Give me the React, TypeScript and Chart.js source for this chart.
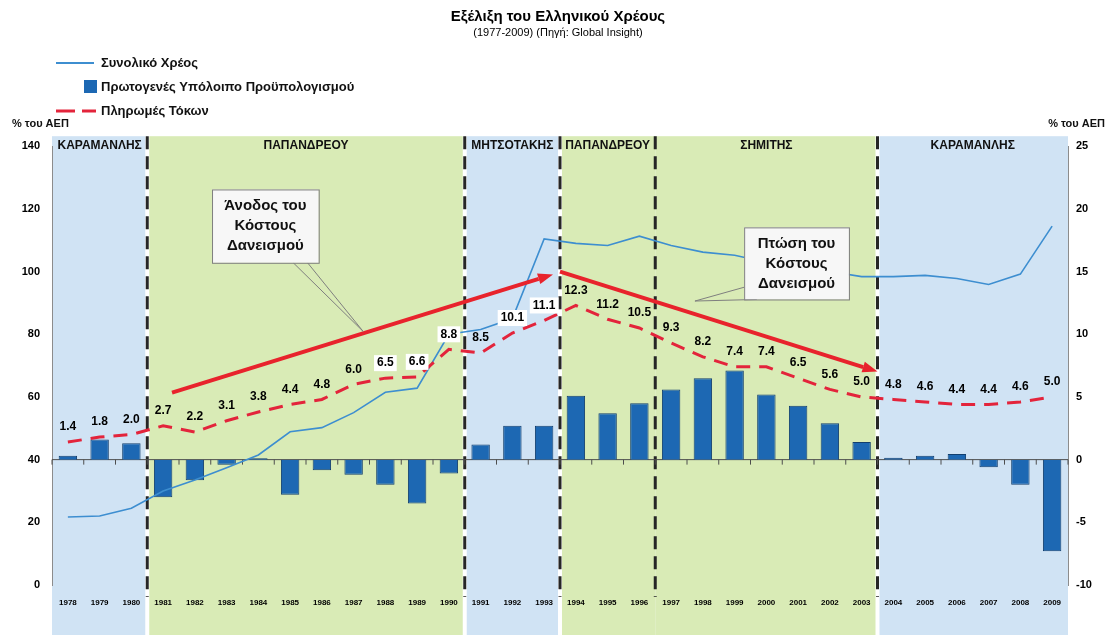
import { useEffect, useRef } from "react";
import { Chart, registerables } from "chart.js";

Chart.register(...registerables);

// ---------- DATA ----------
const years = [
  "1978", "1979", "1980", "1981", "1982", "1983", "1984", "1985", "1986", "1987", "1988",
  "1989", "1990", "1991", "1992", "1993", "1994", "1995", "1996", "1997", "1998", "1999",
  "2000", "2001", "2002", "2003", "2004", "2005", "2006", "2007", "2008", "2009",
];

// Συνολικό Χρέος (% ΑΕΠ, left axis)
const totalDebt = [
  21.7, 22.0, 24.5, 30.0, 33.5, 37.4, 41.5, 48.9, 50.2, 55.0, 61.5,
  62.8, 80.0, 81.5, 85.0, 110.4, 109.0, 108.3, 111.3, 108.3, 106.2, 105.2,
  103.0, 101.5, 100.0, 98.4, 98.4, 98.8, 97.8, 95.9, 99.2, 114.5,
];

// Πρωτογενές Υπόλοιπο Προϋπολογισμού (% ΑΕΠ, right axis)
const primaryBalance = [
  0.3, 1.6, 1.3, -3.0, -1.65, -0.4, 0.1, -2.8, -0.85, -1.2, -2.0,
  -3.5, -1.1, 1.2, 2.7, 2.7, 5.1, 3.7, 4.5, 5.6, 6.5, 7.1,
  5.2, 4.3, 2.9, 1.4, 0.15, 0.3, 0.45, -0.6, -2.0, -7.3,
];

// Πληρωμές Τόκων (% ΑΕΠ, right axis)
const interestPayments = [
  1.4, 1.8, 2.0, 2.7, 2.2, 3.1, 3.8, 4.4, 4.8, 6.0, 6.5,
  6.6, 8.8, 8.5, 10.1, 11.1, 12.3, 11.2, 10.5, 9.3, 8.2, 7.4,
  7.4, 6.5, 5.6, 5.0, 4.8, 4.6, 4.4, 4.4, 4.6, 5.0,
];

const leftTickStep = 20;
const rightTickStep = 5;

// Government periods
const periodNames = ["ΚΑΡΑΜΑΝΛΗΣ", "ΠΑΠΑΝΔΡΕΟΥ", "ΜΗΤΣΟΤΑΚΗΣ", "ΠΑΠΑΝΔΡΕΟΥ", "ΣΗΜΙΤΗΣ", "ΚΑΡΑΜΑΝΛΗΣ"];
const periodFirstYear = ["1978", "1981", "1991", "1994", "1997", "2004"];
const periodLastYear = ["1980", "1990", "1993", "1996", "2003", "2009"];
const periodKind = ["blue", "green", "blue", "green", "green", "blue"];

// interest labels drawn on a white box
const boxedLabelYears = ["1988", "1989", "1990", "1992", "1993"];

// Annotations (x = category index, y = left-axis value)
const riseArrow = [[3.28, 61.4], [15.28, 99.1]];
const fallArrow = [[15.5, 100.0], [25.5, 68.1]];
const riseText = ["Άνοδος του", "Κόστους", "Δανεισμού"];
const fallText = ["Πτώση του", "Κόστους", "Δανεισμού"];
const riseBox = { x: [4.54, 7.9], y: [126.2, 102.8], tail: [[7.1, 102.8], [7.55, 102.8]], tip: [9.3, 80.9] };
const fallBox = { x: [21.3, 24.6], y: [114.1, 91.1], tail: [[21.3, 95.0], [21.7, 91.1]], tip: [19.75, 90.6] };

// ---------- STYLE ----------
const FONT = "'Liberation Sans', Arial, sans-serif";
const BLUE_BAND = "#d0e3f4";
const GREEN_BAND = "#d9ebb6";
const DEBT_COLOR = "#3d8ed0";
const BAR_COLOR = "#1d68b3";
const BAR_BORDER = "#123f6e";
const INT_COLOR = "#e3243b";
const ARROW_COLOR = "#e8232c";

function drawArrow(ctx: CanvasRenderingContext2D, x1: number, y1: number, x2: number, y2: number) {
  const ang = Math.atan2(y2 - y1, x2 - x1);
  const head = 15;
  const hw = 11;
  const bx = x2 - head * Math.cos(ang);
  const by = y2 - head * Math.sin(ang);
  ctx.save();
  ctx.strokeStyle = ARROW_COLOR;
  ctx.lineWidth = 4;
  ctx.lineCap = "butt";
  ctx.beginPath();
  ctx.moveTo(x1, y1);
  ctx.lineTo(bx, by);
  ctx.stroke();
  ctx.fillStyle = ARROW_COLOR;
  ctx.beginPath();
  ctx.moveTo(x2, y2);
  ctx.lineTo(bx + (hw / 2) * Math.sin(ang), by - (hw / 2) * Math.cos(ang));
  ctx.lineTo(bx - (hw / 2) * Math.sin(ang), by + (hw / 2) * Math.cos(ang));
  ctx.closePath();
  ctx.fill();
  ctx.restore();
}

const decorPlugin = {
  id: "decor",
  beforeDraw(chart: any) {
    const { ctx, chartArea, scales } = chart;
    const x = scales.x;
    const half = (x.getPixelForValue(1) - x.getPixelForValue(0)) / 2;
    const bandTop = chartArea.top - 10;
    ctx.save();
    for (let i = 0; i < periodNames.length; i++) {
      const i0 = years.indexOf(periodFirstYear[i]);
      const i1 = years.indexOf(periodLastYear[i]);
      let l = x.getPixelForValue(i0) - half;
      let r = x.getPixelForValue(i1) + half;
      if (i > 0 && periodKind[i - 1] !== periodKind[i]) l += 2;
      if (i < periodNames.length - 1 && periodKind[i + 1] !== periodKind[i]) r -= 2;
      ctx.fillStyle = periodKind[i] === "blue" ? BLUE_BAND : GREEN_BAND;
      ctx.fillRect(l, bandTop, r - l, chart.height - bandTop);
    }
    ctx.restore();
  },
  beforeDatasetsDraw(chart: any) {
    const { ctx, chartArea, scales } = chart;
    const x = scales.x;
    const yR = scales.yR;
    const half = (x.getPixelForValue(1) - x.getPixelForValue(0)) / 2;
    const bandTop = chartArea.top - 10;
    ctx.save();
    // period separators
    ctx.strokeStyle = "#262626";
    ctx.lineWidth = 3;
    ctx.setLineDash([13, 7]);
    for (let i = 1; i < periodFirstYear.length; i++) {
      const px = x.getPixelForValue(years.indexOf(periodFirstYear[i])) - half;
      ctx.beginPath();
      ctx.moveTo(px, bandTop);
      ctx.lineTo(px, chartArea.bottom + 12);
      ctx.stroke();
    }
    ctx.setLineDash([]);
    // zero line of the right axis with ticks
    const y0 = yR.getPixelForValue(0);
    ctx.strokeStyle = "#4d4d4d";
    ctx.lineWidth = 1;
    ctx.beginPath();
    ctx.moveTo(chartArea.left, y0);
    ctx.lineTo(chartArea.right, y0);
    for (let i = 0; i <= years.length; i++) {
      const px = x.getPixelForValue(i) - half;
      ctx.moveTo(px, y0);
      ctx.lineTo(px, y0 + 5);
    }
    ctx.stroke();
    ctx.restore();
  },
  afterDatasetsDraw(chart: any) {
    const { ctx, scales } = chart;
    const x = scales.x;
    const yL = scales.yL;
    const P = (p: number[]) => [x.getPixelForValue(p[0]), yL.getPixelForValue(p[1])];

    // arrows
    const a1 = P(riseArrow[0]), a2 = P(riseArrow[1]);
    drawArrow(ctx, a1[0], a1[1], a2[0], a2[1]);
    const b1 = P(fallArrow[0]), b2 = P(fallArrow[1]);
    drawArrow(ctx, b1[0], b1[1], b2[0], b2[1]);

    // callouts
    const callout = (box: any, lines: string[]) => {
      const l = x.getPixelForValue(box.x[0]);
      const r = x.getPixelForValue(box.x[1]);
      const t = yL.getPixelForValue(box.y[0]);
      const b = yL.getPixelForValue(box.y[1]);
      const t1 = P(box.tail[0]), t2 = P(box.tail[1]), tip = P(box.tip);
      ctx.save();
      ctx.strokeStyle = "#7f7f7f";
      ctx.lineWidth = 1;
      ctx.beginPath();
      ctx.moveTo(t1[0], t1[1]);
      ctx.lineTo(tip[0], tip[1]);
      ctx.lineTo(t2[0], t2[1]);
      ctx.stroke();
      ctx.fillStyle = "#f7f7f7";
      ctx.fillRect(l, t, r - l, b - t);
      ctx.strokeRect(l + 0.5, t + 0.5, r - l, b - t);
      ctx.fillStyle = "#111";
      ctx.font = `bold 15px ${FONT}`;
      ctx.textAlign = "center";
      ctx.textBaseline = "middle";
      const cx = (l + r) / 2;
      const lh = 20;
      const cy = (t + b) / 2;
      lines.forEach((s, k) => ctx.fillText(s, cx, cy + (k - 1) * lh));
      ctx.restore();
    };
    callout(riseBox, riseText);
    callout(fallBox, fallText);

    // interest labels
    const meta = chart.getDatasetMeta(2);
    ctx.save();
    ctx.font = `bold 12px ${FONT}`;
    ctx.textAlign = "center";
    ctx.textBaseline = "middle";
    meta.data.forEach((el: any, i: number) => {
      const txt = interestPayments[i].toFixed(1);
      const px = el.x;
      const py = el.y - 15;
      if (boxedLabelYears.includes(years[i])) {
        const w = ctx.measureText(txt).width + 6;
        ctx.fillStyle = "#ffffff";
        ctx.fillRect(px - w / 2, py - 8, w, 16);
      }
      ctx.fillStyle = "#000";
      ctx.fillText(txt, px, py);
    });
    ctx.restore();
  },
  afterDraw(chart: any) {
    const { ctx, chartArea, scales } = chart;
    const x = scales.x;
    const half = (x.getPixelForValue(1) - x.getPixelForValue(0)) / 2;
    ctx.save();
    // period names
    ctx.fillStyle = "#111";
    ctx.font = `bold 12px ${FONT}`;
    ctx.textAlign = "center";
    ctx.textBaseline = "middle";
    for (let i = 0; i < periodNames.length; i++) {
      const l = x.getPixelForValue(years.indexOf(periodFirstYear[i])) - half;
      const r = x.getPixelForValue(years.indexOf(periodLastYear[i])) + half;
      ctx.fillText(periodNames[i], (l + r) / 2, chartArea.top - 1);
    }
    // axis unit labels
    ctx.font = `bold 11px ${FONT}`;
    ctx.textAlign = "left";
    ctx.fillText("% του ΑΕΠ", 12, chartArea.top - 22);
    ctx.textAlign = "right";
    ctx.fillText("% του ΑΕΠ", chart.width - 3, chartArea.top - 22);

    // legend
    ctx.textAlign = "left";
    ctx.font = `bold 13px ${FONT}`;
    const lx = 101;
    // line
    ctx.strokeStyle = DEBT_COLOR;
    ctx.lineWidth = 2;
    ctx.beginPath();
    ctx.moveTo(56, 63);
    ctx.lineTo(94, 63);
    ctx.stroke();
    ctx.fillStyle = "#111";
    ctx.fillText("Συνολικό Χρέος", lx, 63);
    // bar
    ctx.fillStyle = BAR_COLOR;
    ctx.fillRect(84, 80, 13, 13);
    ctx.fillStyle = "#111";
    ctx.fillText("Πρωτογενές Υπόλοιπο Προϋπολογισμού", lx, 87);
    // dashed
    ctx.strokeStyle = INT_COLOR;
    ctx.lineWidth = 3;
    ctx.beginPath();
    ctx.moveTo(56, 111);
    ctx.lineTo(75, 111);
    ctx.moveTo(82, 111);
    ctx.lineTo(96, 111);
    ctx.stroke();
    ctx.fillText("Πληρωμές Τόκων", lx, 111);
    ctx.restore();
  },
};

export default function App() {
  const ref = useRef<HTMLCanvasElement | null>(null);
  useEffect(() => {
    if (!ref.current) return;
    Chart.defaults.font.family = FONT;
    const chart = new Chart(ref.current, {
      type: "bar",
      data: {
        labels: years,
        datasets: [
          {
            type: "bar",
            label: "Πρωτογενές Υπόλοιπο Προϋπολογισμού",
            data: primaryBalance,
            yAxisID: "yR",
            backgroundColor: BAR_COLOR,
            borderColor: BAR_BORDER,
            borderWidth: 1,
            barPercentage: 0.58,
            categoryPercentage: 1,
            order: 3,
          },
          {
            type: "line",
            label: "Συνολικό Χρέος",
            data: totalDebt,
            yAxisID: "yL",
            borderColor: DEBT_COLOR,
            borderWidth: 1.6,
            pointRadius: 0,
            tension: 0,
            order: 2,
          },
          {
            type: "line",
            label: "Πληρωμές Τόκων",
            data: interestPayments,
            yAxisID: "yR",
            borderColor: INT_COLOR,
            borderWidth: 3,
            borderDash: [14, 9],
            pointRadius: 0,
            tension: 0,
            order: 1,
          },
        ],
      } as any,
      options: {
        animation: false,
        responsive: true,
        maintainAspectRatio: false,
        layout: { padding: { left: 8, right: 0, top: 0, bottom: 20 } },
        plugins: {
          legend: { display: false },
          tooltip: { enabled: false },
          title: {
            display: true,
            text: "Εξέλιξη του Ελληνικού Χρέους",
            color: "#000",
            font: { size: 15, weight: "bold", family: FONT },
            padding: { top: 8, bottom: 0 },
          },
          subtitle: {
            display: true,
            text: "(1977-2009) (Πηγή: Global Insight)",
            color: "#000",
            font: { size: 11, family: FONT },
            padding: { top: 0, bottom: 107 },
          },
        },
        scales: {
          x: {
            type: "category",
            offset: true,
            grid: { display: false, drawTicks: false },
            border: { display: false },
            ticks: {
              autoSkip: false,
              maxRotation: 0,
              color: "#000",
              font: { size: 8, weight: "bold" },
              padding: 13,
            },
            afterFit(s: any) {
              s.height = 30;
            },
          },
          yL: {
            position: "left",
            min: 0,
            max: 140,
            ticks: { stepSize: leftTickStep, color: "#000", font: { size: 11, weight: "bold" }, padding: 12 },
            grid: { display: false, drawTicks: false },
            border: { display: true, color: "#8c8c8c", width: 1 },
            afterFit(s: any) {
              s.width = 44;
            },
          },
          yR: {
            position: "right",
            min: -10,
            max: 25,
            ticks: { stepSize: rightTickStep, color: "#000", font: { size: 11, weight: "bold" }, padding: 8 },
            grid: { display: false, drawTicks: false },
            border: { display: true, color: "#8c8c8c", width: 1 },
            afterFit(s: any) {
              s.width = 40;
            },
          },
        },
      } as any,
      plugins: [decorPlugin],
    });
    return () => chart.destroy();
  }, []);

  return (
    <div style={{ position: "fixed", left: 0, top: 0, width: 1108, height: 635, background: "#fff" }}>
      <canvas ref={ref} />
    </div>
  );
}
